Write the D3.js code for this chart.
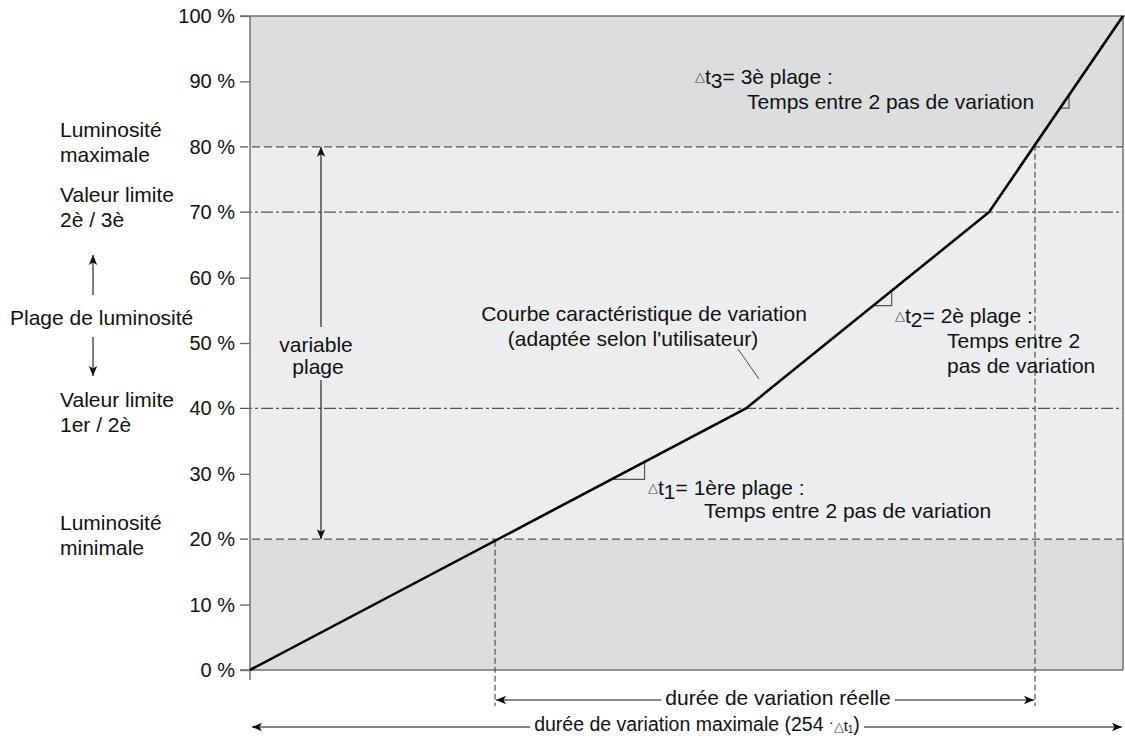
<!DOCTYPE html>
<html><head><meta charset="utf-8">
<script src="https://cdn.jsdelivr.net/npm/d3@7"></script>
<style>
body{margin:0;background:#fff;}
text{font-family:"Liberation Sans",Arial,Helvetica,sans-serif;fill:#111;}
</style>
</head><body>
<svg id="c" width="1125" height="736"></svg>
<script>
// ---------- data ----------
const yTicks = [0, 10, 20, 30, 40, 50, 60, 70, 80, 90, 100];
const yTickLabels = ["0 %", "10 %", "20 %", "30 %", "40 %", "50 %", "60 %", "70 %", "80 %", "90 %", "100 %"];
const bandLow = [0, 20, 80];
const bandHigh = [20, 80, 100];
const bandKind = ["outer", "inner", "outer"];
const limitLevels = [20, 80];        // min / max brightness (dashed)
const thresholdLevels = [40, 70];    // range limits (dash-dot)
const curveTime = [0, 144.3, 215, 254];   // time in steps of Δt1
const curveLevel = [0, 40, 70, 100];      // brightness %
const realDuration = [71.3, 228.4];       // time at 20 % and 80 %
const maxSteps = 254;
const stepMarks = [[105.2, 114.8], [181.3, 186.7], [235.7, 238.3]];

// ---------- setup ----------
const svg = d3.select("#c");
const FS = 21;
const x = d3.scaleLinear().domain([0, maxSteps]).range([250, 1123]);
const y = d3.scaleLinear().domain([0, 100]).range([670, 16]);
const curveF = d3.scaleLinear().domain(curveTime).range(curveLevel);
const bandColor = {outer: "#dcdddf", inner: "#ecedef"};

// arrowhead marker
const defs = svg.append("defs");
defs.append("marker").attr("id", "ah").attr("viewBox", "-11 -6 12 12")
  .attr("refX", 0).attr("refY", 0).attr("markerWidth", 12).attr("markerHeight", 12)
  .attr("markerUnits", "userSpaceOnUse").attr("orient", "auto-start-reverse")
  .append("path").attr("d", "M-10,-4.2 L0,0 L-10,4.2 L-7.5,0 Z").attr("fill", "#111");

// bands
svg.append("g").selectAll("rect").data(bandLow).join("rect")
  .attr("x", x(0)).attr("width", x(maxSteps) - x(0))
  .attr("y", (d, i) => y(bandHigh[i])).attr("height", (d, i) => y(d) - y(bandHigh[i]))
  .attr("fill", (d, i) => bandColor[bandKind[i]]);

// y axis ticks & labels
const special = new Set([...limitLevels, ...thresholdLevels]);
const ax = svg.append("g").attr("transform", `translate(${x(0)},0)`)
  .call(d3.axisLeft(y).tickValues(yTicks).tickSize(10).tickPadding(5)
    .tickFormat((d, i) => yTickLabels[i]));
ax.select(".domain").remove();
ax.selectAll(".tick line").attr("stroke", "#666").attr("stroke-width", 1.3)
  .attr("display", d => special.has(d) ? "none" : null);
ax.selectAll(".tick text").attr("font-size", 20).attr("fill", "#111")
  .attr("font-family", "Liberation Sans, Arial, sans-serif");

// grid lines
svg.append("g").selectAll("line").data(limitLevels).join("line")
  .attr("x1", x(0) - 10).attr("x2", x(maxSteps)).attr("y1", d => y(d)).attr("y2", d => y(d))
  .attr("stroke", "#555").attr("stroke-width", 1.2).attr("stroke-dasharray", "8,4");
svg.append("g").selectAll("line").data(thresholdLevels).join("line")
  .attr("x1", x(0) - 10).attr("x2", x(maxSteps)).attr("y1", d => y(d)).attr("y2", d => y(d))
  .attr("stroke", "#555").attr("stroke-width", 1.2).attr("stroke-dasharray", "12,3,3,3");

// frame
const frame = svg.append("g").attr("stroke", "#707070").attr("stroke-width", 1.5);
frame.append("line").attr("x1", x(0)).attr("x2", x(0)).attr("y1", y(100)).attr("y2", y(0) + 10);
frame.append("line").attr("x1", x(0) - 10).attr("x2", x(maxSteps)).attr("y1", y(0)).attr("y2", y(0));
frame.append("line").attr("x1", x(0) - 10).attr("x2", 1125).attr("y1", y(100)).attr("y2", y(100));
frame.append("line").attr("x1", x(maxSteps)).attr("x2", x(maxSteps)).attr("y1", y(100)).attr("y2", y(0));

// real duration verticals
svg.append("g").selectAll("line").data(realDuration).join("line")
  .attr("x1", d => x(d)).attr("x2", d => x(d))
  .attr("y1", d => y(curveF(d))).attr("y2", 706)
  .attr("stroke", "#444").attr("stroke-width", 1.1).attr("stroke-dasharray", "6,3");

// step markers
svg.append("g").selectAll("path").data(stepMarks).join("path")
  .attr("d", d => `M${x(d[0])},${y(curveF(d[0]))} H${x(d[1])} V${y(curveF(d[1]))}`)
  .attr("fill", "none").attr("stroke", "#555").attr("stroke-width", 1.2);

// curve
svg.append("path").datum(curveTime.map((t, i) => [t, curveLevel[i]]))
  .attr("d", d3.line().x(d => x(d[0])).y(d => y(d[1])))
  .attr("fill", "none").attr("stroke", "#000").attr("stroke-width", 2.6)
  .attr("stroke-linejoin", "miter");

// helpers
function txt(xp, yc, s, anchor = "start", size = FS) {
  return svg.append("text").attr("x", xp).attr("y", yc + size * 0.35)
    .attr("font-size", size).attr("text-anchor", anchor).text(s);
}
function arrowLine(x1, y1, x2, y2, start, end) {
  const l = svg.append("line").attr("x1", x1).attr("y1", y1).attr("x2", x2).attr("y2", y2)
    .attr("stroke", "#111").attr("stroke-width", 1.1);
  if (start) l.attr("marker-start", "url(#ah)");
  if (end) l.attr("marker-end", "url(#ah)");
}

// left labels
txt(60, 130, "Luminosité"); txt(60, 155, "maximale");
txt(60, 195, "Valeur limite"); txt(60, 220, "2è / 3è");
txt(10, 318, "Plage de luminosité");
txt(60, 400, "Valeur limite"); txt(60, 425, "1er / 2è");
txt(60, 523, "Luminosité"); txt(60, 548, "minimale");
arrowLine(93, 295, 93, 255, false, true);
arrowLine(93, 337, 93, 376, false, true);

// variable plage
txt(316, 345, "variable", "middle");
txt(318, 367, "plage", "middle");
arrowLine(321, 327, 321, y(80), false, true);
arrowLine(321, 380, 321, y(20), false, true);

// curve annotation
txt(644, 314, "Courbe caractéristique de variation", "middle");
txt(633, 339, "(adaptée selon l'utilisateur)", "middle");
svg.append("line").attr("x1", 738).attr("y1", 349).attr("x2", 759).attr("y2", 379)
  .attr("stroke", "#333").attr("stroke-width", 0.9);

// Δt labels
function dtLabel(xp, yc, n, rest) {
  const t = svg.append("text").attr("x", xp).attr("y", yc + FS * 0.35).attr("font-size", FS);
  t.append("tspan").attr("font-size", 13).attr("fill", "#444").attr("dy", -3).text("△");
  t.append("tspan").attr("dy", 3).text("t");
  t.append("tspan").attr("dy", 4).text(n);
  t.append("tspan").attr("dy", -4).text("= " + rest);
}
dtLabel(648, 488, "1", "1ère plage :");
txt(704, 511, "Temps entre 2 pas de variation");
dtLabel(895, 316, "2", "2è plage :");
txt(947, 341, "Temps entre 2");
txt(947, 366, "pas de variation");
dtLabel(695, 77, "3", "3è plage :");
txt(747, 102, "Temps entre 2 pas de variation");

// bottom durations
const t1 = txt(778, 698, "durée de variation réelle", "middle");
const b1 = t1.node().getBBox();
arrowLine(b1.x - 4, 700, x(realDuration[0]) + 1, 700, false, true);
arrowLine(b1.x + b1.width + 4, 700, x(realDuration[1]) - 1, 700, false, true);

const FS2 = 19.5;
const t2 = svg.append("text").attr("x", 697).attr("y", 731)
  .attr("font-size", FS2).attr("text-anchor", "middle");
t2.append("tspan").text("durée de variation maximale (254 ");
t2.append("tspan").attr("dy", -4).attr("font-size", 14).text("·");
t2.append("tspan").attr("dy", 4).attr("font-size", 13).attr("fill", "#444").text("△");
t2.append("tspan").attr("font-size", 15).text("t");
t2.append("tspan").attr("dy", 2).attr("font-size", 10).text("1");
t2.append("tspan").attr("dy", -2).text(")");
const b2 = t2.node().getBBox();
arrowLine(b2.x - 4, 727, x(0) + 2, 727, false, true);
arrowLine(b2.x + b2.width + 4, 727, x(maxSteps) - 1, 727, false, true);
</script>
</body></html>
